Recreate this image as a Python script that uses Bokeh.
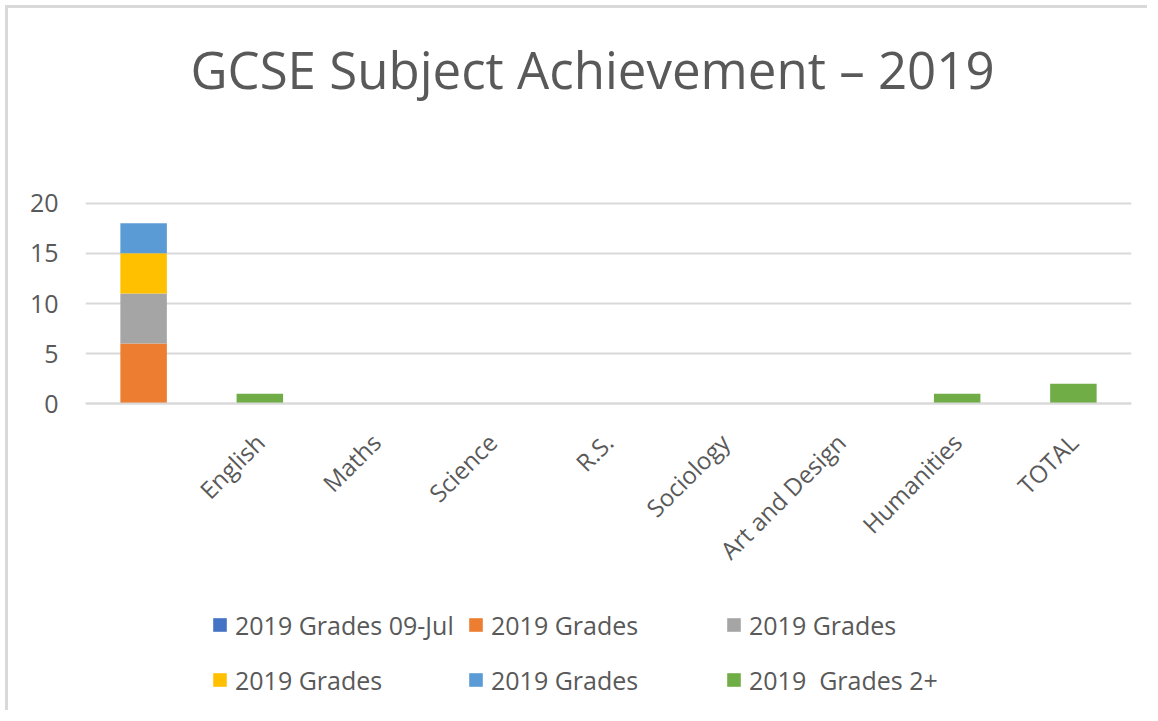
import math
from bokeh.plotting import figure
from bokeh.models import (ColumnDataSource, FactorRange, Range1d, Legend,
                          LegendItem, FixedTicker, Label)
from bokeh.embed import file_html
from bokeh.resources import INLINE

# ---- data ----
categories = [" ", "English", "Maths", "Science", "R.S.", "Sociology",
              "Art and Design", "Humanities", "TOTAL"]
grades_09_jul = [0, 0, 0, 0, 0, 0, 0, 0, 0]
grades_a = [6, 0, 0, 0, 0, 0, 0, 0, 0]
grades_b = [5, 0, 0, 0, 0, 0, 0, 0, 0]
grades_c = [4, 0, 0, 0, 0, 0, 0, 0, 0]
grades_d = [3, 0, 0, 0, 0, 0, 0, 0, 0]
grades_2plus = [0, 1, 0, 0, 0, 0, 0, 1, 2]
series_keys = ["g09jul", "ga", "gb", "gc", "gd", "g2plus"]
series_labels = ["2019 Grades 09-Jul", "2019 Grades", "2019 Grades",
                 "2019 Grades", "2019 Grades", "2019  Grades 2+"]
series_colors = ["#4472C4", "#ED7D31", "#A5A5A5", "#FFC000", "#5B9BD5", "#70AD47"]
y_ticks = [0, 5, 10, 15, 20]
title_text = "GCSE Subject Achievement \u2013 2019"

source = ColumnDataSource(dict(
    cat=categories, g09jul=grades_09_jul, ga=grades_a, gb=grades_b,
    gc=grades_c, gd=grades_d, g2plus=grades_2plus))

FONT = "Open Sans"
TXT = "#595959"
GRID = "#d9d9d9"

# ---- layout (pixels); the canvas is shifted 8px right/down by CSS margin ----
OFF = 8
W, H = 1142, 705
FRAME_L, FRAME_R = 85 - OFF, 1131 - OFF
Y0_PX, Y20_PX = 403.3 - OFF, 202.7 - OFF   # rows of the 0 and 20 gridlines
ppu = (Y0_PX - Y20_PX) / 20.0
y_start = -(H - Y0_PX) / ppu
y_end = 20 + Y20_PX / ppu

p = figure(width=W, height=H, output_backend="svg", toolbar_location=None,
           x_range=FactorRange(factors=categories), y_range=Range1d(y_start, y_end),
           min_border_left=FRAME_L, min_border_right=W - FRAME_R,
           min_border_top=0, min_border_bottom=0)
p.outline_line_color = None
p.background_fill_color = "white"
p.border_fill_color = "white"
p.styles = {"margin-left": f"{OFF}px", "margin-top": f"{OFF}px",
            "box-shadow": "-3px -3px 0 0 #d9d9d9"}

renderers = p.vbar_stack(series_keys, x="cat", width=0.4, source=source,
                         color=series_colors, line_color=None)

p.xgrid.grid_line_color = None
p.ygrid.grid_line_color = GRID
p.ygrid.grid_line_width = 2
p.ygrid.ticker = FixedTicker(ticks=y_ticks)

p.yaxis.ticker = FixedTicker(ticks=y_ticks)
p.yaxis.axis_line_color = None
p.yaxis.major_tick_line_color = None
p.yaxis.minor_tick_line_color = None
p.yaxis.major_label_standoff = 21
p.yaxis.major_label_text_font = FONT
p.yaxis.major_label_text_font_size = "25px"
p.yaxis.major_label_text_color = TXT

p.xaxis.fixed_location = 0
p.xaxis.axis_line_color = GRID
p.xaxis.axis_line_width = 2
p.xaxis.major_tick_line_color = None
p.xaxis.minor_tick_line_color = None
p.xaxis.major_label_orientation = math.pi / 4
p.xaxis.major_label_standoff = 28
p.xaxis.major_label_text_font = FONT
p.xaxis.major_label_text_font_size = "24px"
p.xaxis.major_label_text_color = TXT

title = Label(x=592 - OFF - FRAME_L, y=H - (92 - OFF) + 24, x_units="screen", y_units="screen",
              text=title_text, text_align="center", text_baseline="alphabetic",
              text_font=FONT, text_font_size="51px", text_color=TXT)
p.add_layout(title)

LEG_BOTTOM = 697.5 - OFF  # row of the legend's lower edge
cols = [(0, 3), (1, 4), (2, 5)]
xoffs = [211 - OFF, 467 - OFF, 725 - OFF]
for (a, b), xo in zip(cols, xoffs):
    leg = Legend(items=[LegendItem(label=series_labels[a], renderers=[renderers[a]]),
                        LegendItem(label=series_labels[b], renderers=[renderers[b]])],
                 location=(xo - FRAME_L, H - LEG_BOTTOM + 1), orientation="vertical",
                 padding=0, margin=0, spacing=21,
                 glyph_width=17, glyph_height=17, label_height=17,
                 label_standoff=7, border_line_color=None,
                 background_fill_alpha=0,
                 label_text_font=FONT, label_text_font_size="25px",
                 label_text_color=TXT)
    p.add_layout(leg, "center")

open("out.html", "w").write(file_html(p, INLINE))
